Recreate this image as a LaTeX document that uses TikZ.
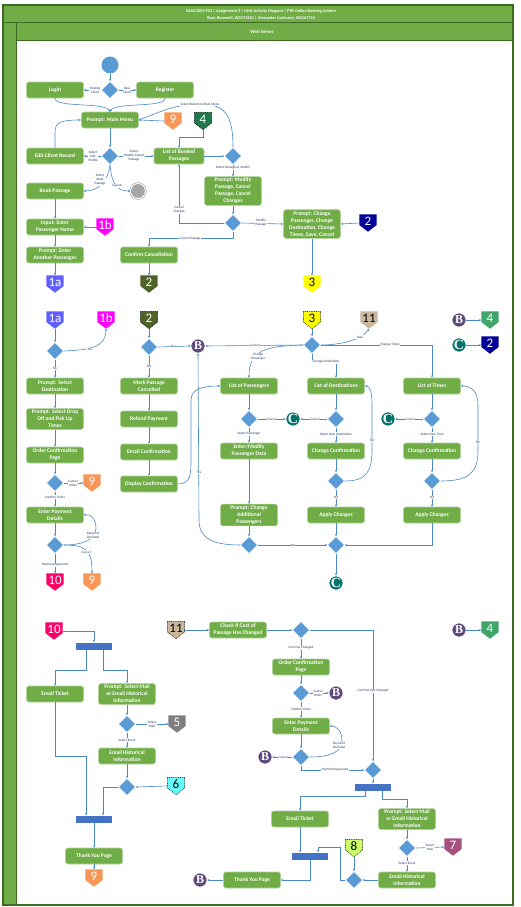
\documentclass[tikz,border=0pt]{standalone}
\usepackage{fontspec}
\setmainfont{Carlito}
\newfontfamily\bcfont{Liberation Serif}
\usetikzlibrary{shapes.geometric,arrows.meta,calc}
\definecolor{poolg}{HTML}{70AD47}
\definecolor{poolb}{HTML}{3E6B22}
\definecolor{actg}{HTML}{70AD47}
\definecolor{decb}{HTML}{5B9BD5}
\definecolor{linec}{HTML}{4A89C8}
\definecolor{barb}{HTML}{4472C4}
\definecolor{lblc}{HTML}{1F3864}
\definecolor{endg}{HTML}{A6A6A6}
\definecolor{borange}{HTML}{F79656}
\definecolor{bdgreen}{HTML}{1E7A4E}
\definecolor{bgreen}{HTML}{3FA56A}
\definecolor{bnavy}{HTML}{000099}
\definecolor{byellow}{HTML}{FFFF00}
\definecolor{bolive}{HTML}{4F6228}
\definecolor{bmag}{HTML}{FF00FF}
\definecolor{bblue}{HTML}{6060FF}
\definecolor{bcrim}{HTML}{FF0066}
\definecolor{btan}{HTML}{C9B79C}
\definecolor{bgray}{HTML}{7F7F7F}
\definecolor{bcyan}{HTML}{66FFFF}
\definecolor{bplum}{HTML}{A5517E}
\definecolor{blime}{HTML}{CCFF66}
\definecolor{bpurp}{HTML}{5F4A7D}
\definecolor{cteal}{HTML}{00736B}
\tikzset{
 act/.style={rectangle, rounded corners=2.5pt, fill=actg, draw=actg!55!white, line width=0.6pt, text=white, font=\bfseries\fontsize{5.5}{7}\selectfont, align=center, minimum width=57pt, minimum height=16pt, inner xsep=1pt, inner ysep=1.5pt},
 dec/.style={diamond, fill=decb, draw=white, line width=0.5pt, minimum width=17pt, minimum height=17pt, inner sep=0pt},
 arr/.style={draw=linec, line width=0.6pt, -{Stealth[length=2.4pt,width=2.2pt]}},
 lbl/.style={font=\fontsize{3.4}{4}\selectfont, text=lblc, fill=white, inner sep=0.4pt, align=center},
 fbar/.style={rectangle, fill=barb, minimum width=36pt, minimum height=7pt, inner sep=0pt},
 bcirc/.style={circle, fill=bpurp, draw=white, line width=0.6pt, minimum size=14pt, inner sep=0pt, text=white, font=\bcfont\bfseries\fontsize{12}{12}\selectfont},
 ccirc/.style={circle, fill=cteal, draw=white, line width=0.6pt, minimum size=14pt, inner sep=0pt, text=white, font=\bcfont\bfseries\fontsize{14}{14}\selectfont},
 bdgbox/.style={rectangle, minimum width=17pt, minimum height=17pt, inner sep=0pt},
 bdash/.style={draw=black, line width=0.5pt, dash pattern=on 1pt off 0.8pt},
}
\newcommand\bdg[6][]{%
  \node[bdgbox] (#2) at (#3) {};
  \path[fill=#4,#1] (#2.north west) -- (#2.north east) -- ($(#2.east)+(0,2)$) -- (#2.south) -- ($(#2.west)+(0,2)$) -- cycle;
  \node[text=#5, font=\fontsize{13}{13}\selectfont, inner sep=0pt] (#2-t) at ($(#2)+(0,-1.8)$) {#6};
}
\begin{document}
\begin{tikzpicture}[x=1pt,y=-1pt]
\useasboundingbox (0,0) rectangle (520,907);
\fill[white] (0,0) rectangle (520,907);
\fill[poolg] (3,5) rectangle (513,905);
\fill[white] (16,41) rectangle (513,905);
\draw[poolb, line width=1.2pt] (3,5) rectangle (513,905);
\draw[poolb, line width=1pt] (3,23) -- (513,23) (16,23) -- (16,905) (16,41) -- (513,41);
\node[font=\bfseries\fontsize{4.3}{7}\selectfont, text=white, align=center] (title) at (261,14.5) {SAAD1001-T03 | Assignment 3 | UML Activity Diagram | PTB Online Booking System\\Ryan Brownell, W0174281 | Alexander Cochrane, W0167724};
\node[font=\bfseries\fontsize{4.8}{5}\selectfont, text=white] (ws) at (262,32) {Web Server};

% ---------------- top section
\node[circle, fill=decb, minimum size=17pt, inner sep=0pt] (start) at (110,65) {};
\node[dec] (d1) at (110,90) {};
\node[act] (login) at (55,90) {Login};
\node[act] (register) at (165,90) {Register};
\node[act] (mm) at (110,120) {Prompt: Main Menu};
\node[act] (edit) at (55,156) {Edit Client Record};
\node[dec] (dm) at (110,156) {};
\node[act, minimum width=50pt] (lob) at (179,156) {List of Booked\\Passages};
\node[dec] (d2) at (233,156) {};
\node[act] (pm) at (233,191) {Prompt: Modify\\Passage, Cancel\\Passage, Cancel\\Changes};
\node[dec] (d3) at (233,223) {};
\node[act] (pc) at (312,224) {Prompt: Change\\Passenger, Change\\Destination, Change\\Times, Save, Cancel};
\node[act] (bp) at (55,191) {Book Passage};
\node[circle, fill=endg, draw=endg!85!black, double=white, double distance=1.2pt, line width=0.5pt, minimum size=15pt, inner sep=0pt] (endc) at (138,191) {};
\node[act] (inp) at (55,227) {Input: Enter\\Passenger Name};
\node[act] (pe) at (55,255) {Prompt: Enter\\Another Passenger};
\node[act] (cc) at (149,255) {Confirm Cancellation};
\bdg{b9a}{173,121}{borange}{white}{9}
\bdg[bdash]{b4a}{203,121}{bdgreen}{white}{4}
\bdg{b2n}{368,223}{bnavy}{white}{2}
\bdg{b3}{312,284}{byellow}{black}{3}
\bdg{b2o}{149,284}{bolive}{white}{2}
\bdg{b1b}{105,227}{bmag}{white}{1b}
\bdg{b1a}{55,284}{bblue}{white}{1a}

\draw[arr] (start) -- (d1);
\draw[arr] (d1.west) -- (login.east);
\draw[arr] (d1.east) -- (register.west);
\draw[arr] (login.south) .. controls (55,108) and (105,102) .. (mm.north);
\draw[arr] (register.south) .. controls (165,108) and (115,102) .. (mm.north);
\draw[arr] (b9a.west) -- (mm.east);
\draw[arr] (d2.north) .. controls (233,115) and (225,104) .. (200,104) .. controls (175,104) and (160,112) .. (mm.east);
\draw[arr] (b4a.south) -- ++(0,8) -| (lob.north);
\draw[arr] (mm.south) -- (dm.north);
\draw[arr] (dm.west) -- (edit.east);
\draw[arr] (dm.east) -- (lob.west);
\draw[arr] (edit.north) -- (55,132) .. controls (55,122) and (62,120) .. (mm.west);
\draw[arr] (dm.south) .. controls (108,180) and (100,191) .. (bp.east);
\draw[arr] (dm.south) .. controls (112,186) and (118,191) .. (endc.west);
\draw[arr] (lob.east) -- (d2.west);
\draw[arr] (d2.south) -- (pm.north);
\draw[arr] (pm.south) -- (d3.north);
\draw[arr] (d3.west) -| (lob.south);
\draw[arr] (d3.south) -- ++(0,7) -| (cc.north);
\draw[arr] (d3.east) -- (pc.west);
\draw[arr] (b2n.west) -- (pc.east);
\draw[arr] (pc.south) -- (b3.north);
\draw[arr] (cc.south) -- (b2o.north);
\draw[arr] (bp.south) -- (inp.north);
\draw[arr] (b1b.west) -- (inp.east);
\draw[arr] (inp.south) -- (pe.north);
\draw[arr] (pe.south) -- (b1a.north);

\node[lbl] (l1) at (95,90) {Existing\\Client};
\node[lbl] (l2) at (127,90) {New\\Client};
\node[lbl] (l3) at (200,104) {Select Return to Main Menu};
\node[lbl] (l4) at (93,156) {Select\\Edit\\Profile};
\node[lbl] (l5) at (134,156) {Select\\Modify/Cancel\\Passage};
\node[lbl] (l6) at (100,180) {Select\\Book\\Passage};
\node[lbl] (l7) at (117,186) {Logout};
\node[lbl] (l8) at (233,168) {Select Passage to Modify};
\node[lbl] (l9) at (179,210) {Cancel\\Changes};
\node[lbl] (l10) at (190,239) {Cancel Passage};
\node[lbl] (l11) at (261,223) {Modify\\Passage};

% ---------------- middle section
\bdg{b1a2}{55,320}{bblue}{white}{1a}
\bdg{b1b2}{106,320}{bmag}{white}{1b}
\bdg[bdash]{b2m}{149,320}{bolive}{white}{2}
\bdg[bdash]{b3m}{312,320}{byellow}{black}{3}
\bdg{b11m}{369,320}{btan}{black}{11}
\node[bcirc] (Bt) at (459,320) {B};
\bdg{b4t}{490,320}{bgreen}{white}{4}
\node[ccirc] (Ct) at (459,345) {C};
\bdg{b2t}{490,345}{bnavy}{white}{2}

\node[dec] (da) at (55,351) {};
\node[act] (psd) at (55,386) {Prompt: Select\\Destination};
\node[act] (pso) at (55,419) {Prompt: Select Drop\\Off and Pick Up\\Times};
\node[act] (ocp) at (55,455) {Order Confirmation\\Page};
\node[dec] (db) at (55,483) {};
\bdg{b9m}{92,483}{borange}{white}{9}
\node[act] (epd) at (55,515) {Enter Payment\\Details};
\node[dec] (dc) at (55,545) {};
\bdg{b10}{55,582}{bcrim}{white}{10}
\bdg{b9b}{92,582}{borange}{white}{9}

\node[dec] (de) at (149,347) {};
\node[bcirc] (Bm) at (198,346) {B};
\node[act] (mpc) at (149,386) {Mark Passage\\Cancelled};
\node[act] (rp) at (149,419) {Refund Payment};
\node[act] (ec) at (149,452) {Email Confirmation};
\node[act] (dcf) at (149,484) {Display Confirmation};

\node[dec] (df) at (312,345) {};
\node[act] (lp) at (249,386) {List of Passengers};
\node[act] (ld) at (336,386) {List of Destinations};
\node[act] (lt) at (432,386) {List of Times};
\node[dec] (dp) at (249,419) {};
\node[dec] (dd) at (336,419) {};
\node[dec] (dt) at (432,419) {};
\node[ccirc] (C1) at (293,419) {C};
\node[ccirc] (C2) at (388,419) {C};
\node[act] (emp) at (249,451) {Enter/Modify\\Passenger Data};
\node[act] (ccd) at (336,451) {Change Confirmation};
\node[act] (cct) at (432,451) {Change Confirmation};
\node[dec] (dd2) at (336,481) {};
\node[dec] (dt2) at (432,481) {};
\node[act] (pca) at (249,515) {Prompt: Change\\Additional\\Passengers};
\node[act] (acd) at (336,515) {Apply Changes};
\node[act] (act) at (432,515) {Apply Changes};
\node[dec] (dg) at (249,545) {};
\node[dec] (dm2) at (336,545) {};
\node[ccirc] (Cb) at (336,583) {C};

\draw[arr] (b1a2.south) -- (da.north);
\draw[arr] (da.east) .. controls (88,350) and (106,348) .. (b1b2.south);
\draw[arr] (da.south) -- (psd.north);
\draw[arr] (psd.south) -- (pso.north);
\draw[arr] (pso.south) -- (ocp.north);
\draw[arr] (ocp.south) -- (db.north);
\draw[arr] (db.east) -- (b9m.west);
\draw[arr] (db.south) -- (epd.north);
\draw[arr] (epd.south) -- (dc.north);
\draw[arr] (dc.east) .. controls (82,545) and (96,540) .. (96,528) .. controls (96,518) and (90,514) .. (epd.east);
\draw[arr] (dc.east) .. controls (86,545) and (92,550) .. (b9b.north);
\draw[arr] (dc.south) -- (b10.north);

\draw[arr] (b2m.south) -- (de.north);
\draw[arr] (de.east) -- (Bm.west);
\draw[arr] (de.south) -- (mpc.north);
\draw[arr] (mpc.south) -- (rp.north);
\draw[arr] (rp.south) -- (ec.north);
\draw[arr] (ec.south) -- (dcf.north);
\draw[arr] (dcf.east) .. controls (190,484) and (191,475) .. (191,462) -- (191,400) .. controls (191,388) and (205,386) .. (lp.west);
\draw[arr] (dg.west) .. controls (212,545) and (199,538) .. (199,520) -- (Bm.south);

\draw[arr] (b3m.south) -- (df.north);
\draw[arr] (df.east) .. controls (340,345) and (362,340) .. (b11m.south);
\draw[arr] (df.west) -- (Bm.east);
\draw[arr] (df.west) .. controls (266,346) and (249,350) .. (lp.north);
\draw[arr] (df.south) -- (312,362) -| (ld.north);
\draw[arr] (df.east) -| (lt.north);
\draw[arr] (Bt.east) -- (b4t.west);
\draw[arr] (Ct.east) -- (b2t.west);

\draw[arr] (lp.south) -- (dp.north);
\draw[arr] (dp.east) -- (C1.west);
\draw[arr] (dp.south) -- (emp.north);
\draw[arr] (emp.south) -- (pca.north);
\draw[arr] (pca.south) -- (dg.north);
\draw[arr] (dg.east) -- (dm2.west);

\draw[arr] (ld.south) -- (dd.north);
\draw[arr] (dd.west) -- (C1.east);
\draw[arr] (dd.south) -- (ccd.north);
\draw[arr] (ccd.south) -- (dd2.north);
\draw[arr] (dd2.south) -- (acd.north);
\draw[arr] (acd.south) -- (dm2.north);
\draw[arr] (dd2.east) .. controls (366,481) and (372,472) .. (372,450) -- (372,405) .. controls (372,392) and (370,386) .. (ld.east);

\draw[arr] (lt.south) -- (dt.north);
\draw[arr] (dt.west) -- (C2.east);
\draw[arr] (dt.south) -- (cct.north);
\draw[arr] (cct.south) -- (dt2.north);
\draw[arr] (dt2.south) -- (act.north);
\draw[arr] (act.south) |- (dm2.east);
\draw[arr] (dt2.east) .. controls (470,481) and (478,472) .. (478,450) -- (478,405) .. controls (478,392) and (472,386) .. (lt.east);
\draw[arr] (dm2.south) -- (Cb.north);

\node[lbl] (m1) at (90,349) {Yes};
\node[lbl] (m2) at (55,368) {No};
\node[lbl] (m3) at (73,483) {Cancel\\Order};
\node[lbl] (m4) at (55,497) {Confirm Order};
\node[lbl] (m5) at (93,535) {Payment\\Declined};
\node[lbl] (m6) at (86,552) {Cancel};
\node[lbl] (m7) at (55,565) {Payment Approved};
\node[lbl] (m8) at (173,346) {No};
\node[lbl] (m9) at (149,366) {Yes};
\node[lbl] (m10) at (199,472) {Yes};
\node[lbl] (m11) at (360,337) {Save};
\node[lbl] (m12) at (255,345) {Cancel};
\node[lbl] (m13) at (258,357) {Change\\Passenger};
\node[lbl] (m14) at (326,362) {Change Destination};
\node[lbl] (m15) at (390,345) {Change Times};
\node[lbl] (m16) at (271,419) {Cancel};
\node[lbl] (m17) at (315,419) {Cancel};
\node[lbl] (m18) at (410,419) {Cancel};
\node[lbl] (m19) at (249,434) {Select Passenger};
\node[lbl] (m20) at (336,434) {Select New Destination};
\node[lbl] (m21) at (432,434) {Select New Time};
\node[lbl] (m22) at (372,440) {No};
\node[lbl] (m23) at (478,442) {No};
\node[lbl] (m24) at (336,497) {Yes};
\node[lbl] (m25) at (432,497) {Yes};
\node[lbl] (m26) at (293,545) {No};

% ---------------- bottom section
\bdg{b10b}{54,631}{bcrim}{white}{10}
\node[fbar] (f1) at (94,646) {};
\node[act] (et1) at (55,694) {Email Ticket};
\node[act] (psm1) at (127,694) {Prompt: Select Mail\\or Email Historical\\Information};
\node[dec] (dx) at (127,724) {};
\bdg{b5}{177,724}{bgray}{white}{5}
\node[act] (ehi1) at (127,756) {Email Historical\\Information};
\node[dec] (dy) at (127,787) {};
\bdg[bdash]{b6}{176,786}{bcyan}{black}{6}
\node[fbar] (f2) at (94,819) {};
\node[act] (ty1) at (94,856) {Thank You Page};
\bdg{b9c}{94,878}{borange}{white}{9}

\bdg[bdash]{b11b}{176,630}{btan}{black}{11}
\node[act] (chk) at (238,630) {Check If Cost of\\Passage Has Changed};
\node[dec] (dk) at (301,630) {};
\node[act] (ocp2) at (301,667) {Order Confirmation\\Page};
\node[dec] (dl) at (301,693) {};
\node[bcirc] (Bl) at (336,693) {B};
\node[act] (epd2) at (301,726) {Enter Payment\\Details};
\node[dec] (dn) at (301,757) {};
\node[bcirc] (Bn) at (265,757) {B};
\node[dec] (dz) at (373,770) {};
\node[fbar] (f3) at (373,787) {};
\node[act] (et2) at (300,819) {Email Ticket};
\node[act] (psm2) at (407,819) {Prompt: Select Mail\\or Email Historical\\Information};
\node[dec] (dq) at (407,848) {};
\bdg{b7}{453,847}{bplum}{white}{7}
\node[act] (ehi2) at (407,880) {Email Historical\\Information};
\node[dec] (dr) at (354,880) {};
\bdg[bdash]{b8}{354,848}{blime}{black}{8}
\node[fbar] (f4) at (310,856) {};
\node[act] (ty2) at (252,880) {Thank You Page};
\node[bcirc] (Bt2) at (200,880) {B};
\node[bcirc] (Br) at (459,630) {B};
\bdg{b4r}{490,630}{bgreen}{white}{4}

\draw[arr] (b10b.east) -| (f1.north);
\draw[arr] ([xshift=-8pt]f1.south) -- ++(0,21) -| (et1.north);
\draw[arr] ([xshift=9pt]f1.south) -- ++(0,21) -| (psm1.north);
\draw[arr] (psm1.south) -- (dx.north);
\draw[arr] (dx.east) -- (b5.west);
\draw[arr] (dx.south) -- (ehi1.north);
\draw[arr] (ehi1.south) -- (dy.north);
\draw[arr] (b6.west) -- (dy.east);
\draw[arr] (dy.west) -| ([xshift=9pt]f2.north);
\draw[arr] (et1.south) -- ++(0,54) -| ([xshift=-8pt]f2.north);
\draw[arr] (f2.south) -- (ty1.north);
\draw[arr] (ty1.south) -- (b9c.north);

\draw[arr] (b11b.east) -- (chk.west);
\draw[arr] (chk.east) -- (dk.west);
\draw[arr] (dk.east) -| (dz.north);
\draw[arr] (dk.south) -- (ocp2.north);
\draw[arr] (ocp2.south) -- (dl.north);
\draw[arr] (dl.east) -- (Bl.west);
\draw[arr] (dl.south) -- (epd2.north);
\draw[arr] (epd2.south) -- (dn.north);
\draw[arr] (dn.west) -- (Bn.east);
\draw[arr] (dn.east) .. controls (330,757) and (342,752) .. (342,741) .. controls (342,730) and (336,726) .. (epd2.east);
\draw[arr] (dn.south) |- (dz.west);
\draw[arr] (dz.south) -- (f3.north);
\draw[arr] ([xshift=-8pt]f3.south) -- ++(0,6) -| (et2.north);
\draw[arr] ([xshift=9pt]f3.south) -- ++(0,9) -| (psm2.north);
\draw[arr] (psm2.south) -- (dq.north);
\draw[arr] (dq.east) -- (b7.west);
\draw[arr] (dq.south) -- (ehi2.north);
\draw[arr] (ehi2.west) -- (dr.east);
\draw[arr] (b8.south) -- (dr.north);
\draw[arr] (dr.west) -| (340,847) -| ([xshift=8pt]f4.north);
\draw[arr] (et2.south) -- (et2.south |- f4.north);
\draw[arr] (f4.south) |- (ty2.east);
\draw[arr] (ty2.west) -- (Bt2.east);
\draw[arr] (Br.east) -- (b4r.west);

\node[lbl] (n1) at (152,724) {Select\\Mail};
\node[lbl] (n2) at (127,740) {Select Email};
\node[lbl] (n3) at (373,691) {Cost Has Not Changed};
\node[lbl] (n4) at (301,648) {Cost Has Changed};
\node[lbl] (n5) at (318,693) {Cancel\\Order};
\node[lbl] (n6) at (301,709) {Confirm Order};
\node[lbl] (n7) at (283,757) {Cancel};
\node[lbl] (n8) at (339,745) {Payment\\Declined};
\node[lbl] (n9) at (335,770) {Payment Approved};
\node[lbl] (n10) at (430,847) {Select\\Mail};
\node[lbl] (n11) at (407,863) {Select Email};
\end{tikzpicture}
\end{document}
